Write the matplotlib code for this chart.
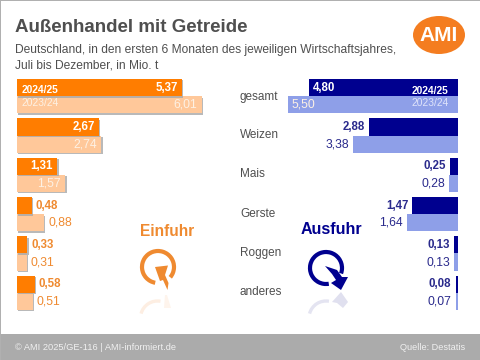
"""Aussenhandel mit Getreide, paired bars for imports and exports."""

import matplotlib
matplotlib.use("Agg")
import matplotlib.pyplot as plt
import matplotlib.patheffects as pe
from matplotlib.patches import Arc, Ellipse, Polygon, Rectangle

plt.rcParams["font.family"] = ["Liberation Sans", "DejaVu Sans"]

categories = ["gesamt", "Weizen", "Mais", "Gerste", "Roggen", "anderes"]
seasons = ["2024/25", "2023/24"]
import_new = [5.37, 2.67, 1.31, 0.48, 0.33, 0.58]
import_old = [6.01, 2.74, 1.57, 0.88, 0.31, 0.51]
export_new = [4.80, 2.88, 0.25, 1.47, 0.13, 0.08]
export_old = [5.50, 3.38, 0.28, 1.64, 0.13, 0.07]

ORANGE = "#ff7d00"
ORANGE_LIGHT = "#ffc89a"
ORANGE_TEXT = "#ef8a30"
BLUE = "#00008f"
BLUE_LIGHT = "#8e9fe8"
BLUE_TEXT = "#2a2a8c"
GREY = "#4f4f4f"

W, H = 480, 360
BAR_H = 0.4375


def fmt(v):
    return f"{v:.2f}".replace(".", ",")


def add_axes_px(fig, x0, y0, x1, y1):
    return fig.add_axes([x0 / W, 1 - y1 / H, (x1 - x0) / W, (y1 - y0) / H])


def draw_side(ax, new, old, color, light, txt, side):
    rows = range(len(new))
    b1 = ax.barh([r - BAR_H / 2 for r in rows], new, height=BAR_H, color=color, zorder=3)
    b2 = ax.barh([r + BAR_H / 2 for r in rows], old, height=BAR_H, color=light, zorder=2)
    if side == "left":
        shadow = [pe.SimplePatchShadow(offset=(1, -1), shadow_rgbFace="#a8a8a8", alpha=0.8), pe.Normal()]
        for b in list(b2) + list(b1):
            b.set_path_effects(shadow)
    ax.set_ylim((320 - 96.3) / 39.3, (70 - 96.3) / 39.3)
    ax.axis("off")
    ax.patch.set_alpha(0)
    # offsets and alignment depend on which way the bars grow
    if side == "left":
        off_in, off_out, ha_in, ha_out = -3, 3, "right", "left"
    else:
        off_in, off_out, ha_in, ha_out = 3, -3, "left", "right"
    for r, (n, o) in enumerate(zip(new, old)):
        inside = r < 3 if side == "left" else r == 0
        for val, y, bold, c_in in ((n, r - BAR_H / 2, True, "white"), (o, r + BAR_H / 2, False, "#fdf1e4")):
            ax.annotate(
                fmt(val), (val, y), xytext=(off_in if inside else off_out, 0),
                textcoords="offset points", ha=ha_in if inside else ha_out, va="center",
                color=c_in if inside else txt, fontsize=8.3 if bold else 8.7,
                fontweight="bold" if bold else "normal", zorder=5,
            )


fig = plt.figure(figsize=(W / 100, H / 100), dpi=100, facecolor="white")

# pixel-coordinate layer for furniture
bg = fig.add_axes([0, 0, 1, 1])
bg.set_xlim(0, W)
bg.set_ylim(H, 0)
bg.axis("off")
bg.add_patch(Rectangle((0, 334), W, 26, color="#ababab", lw=0))
bg.add_patch(Rectangle((0, 0), W, 1, color="#b0b0b0", lw=0))
bg.add_patch(Rectangle((0, 0), 1, H, color="#b0b0b0", lw=0))
bg.add_patch(Ellipse((439, 35), 52, 38, color="#f47d20", lw=0))
bg.text(439, 35.5, "AMI", color="white", fontsize=15, fontweight="bold", ha="center", va="center")

bg.text(15, 27, "Außenhandel mit Getreide", color=GREY, fontsize=13.5, fontweight="bold", va="center")
bg.text(15, 50, "Deutschland, in den ersten 6 Monaten des jeweiligen Wirtschaftsjahres,", color=GREY, fontsize=8.65, va="center")
bg.text(15, 65, "Juli bis Dezember, in Mio. t", color=GREY, fontsize=8.65, va="center")
bg.text(15, 348, "© AMI 2025/GE-116 | AMI-informiert.de", color="#f0f0f0", fontsize=6.7, va="center")
bg.text(465, 348, "Quelle: Destatis", color="#f0f0f0", fontsize=6.6, va="center", ha="right")

bg.text(167, 231, "Einfuhr", color=ORANGE_TEXT, fontsize=11.2, fontweight="bold", ha="center", va="center")
bg.text(331, 230, "Ausfuhr", color=BLUE, fontsize=11.5, fontweight="bold", ha="center", va="center")

# circular arrows
bg.add_patch(Arc((158, 267), 32, 32, theta1=100, theta2=400, color=ORANGE_TEXT, lw=3))
bg.add_patch(Polygon([(155, 267), (168, 265.5), (165, 275), (168.5, 283), (167.5, 290), (163, 280), (160, 281)],
                     color=ORANGE_TEXT, lw=0))
bg.add_patch(Arc((326, 268), 32, 32, theta1=80, theta2=380, color=BLUE, lw=3))
bg.add_patch(Polygon([(325, 266), (337, 270), (342, 277), (348, 277), (341, 290), (331, 283), (336, 280), (332, 274)],
                     color=BLUE, lw=0))
# faded reflections
bg.add_patch(Arc((157.5, 318), 34, 34, theta1=195, theta2=280, color="#fdeee2", lw=2.4))
bg.add_patch(Polygon([(165, 295), (167, 295), (171, 308), (164, 308)], color="#fef4ec", lw=0))
bg.add_patch(Arc((326, 318), 34, 34, theta1=195, theta2=280, color="#e4e4f1", lw=2.4))
bg.add_patch(Polygon([(332, 302), (341, 292), (348, 302), (343, 308), (337, 303)], color="#e0e0ef", lw=0))

# imports grow rightwards from x=17 at 30.7 px per unit
ax_in = add_axes_px(fig, 17, 70, 217, 320)
ax_in.set_xlim(0, 200 / 30.7)
draw_side(ax_in, import_new, import_old, ORANGE, ORANGE_LIGHT, ORANGE_TEXT, "left")

# exports grow leftwards from x=458 at 31 px per unit
ax_out = add_axes_px(fig, 258, 70, 458, 320)
ax_out.set_xlim(200 / 31, 0)
draw_side(ax_out, export_new, export_old, BLUE, BLUE_LIGHT, BLUE_TEXT, "right")

# category labels between the two panels
ycat = [97, 135, 174, 214, 253, 292]
for name, y in zip(categories, ycat):
    bg.text(240, y, name, color=GREY, fontsize=8.5, va="center")

ax_in.text(0.15, -0.16, seasons[0], color="white", fontsize=7.4, fontweight="bold", va="center", zorder=6)
ax_in.text(0.15, 0.17, seasons[1], color="#fdf1e4", fontsize=7.4, va="center", zorder=6)
ax_out.text(0.9, -0.14, seasons[0], color="white", fontsize=7.4, fontweight="bold", va="center", ha="center", zorder=6)
ax_out.text(0.9, 0.17, seasons[1], color="#dfe3fa", fontsize=7.4, va="center", ha="center", zorder=6)

fig.savefig("out.png", dpi=100)
plt.close(fig)
